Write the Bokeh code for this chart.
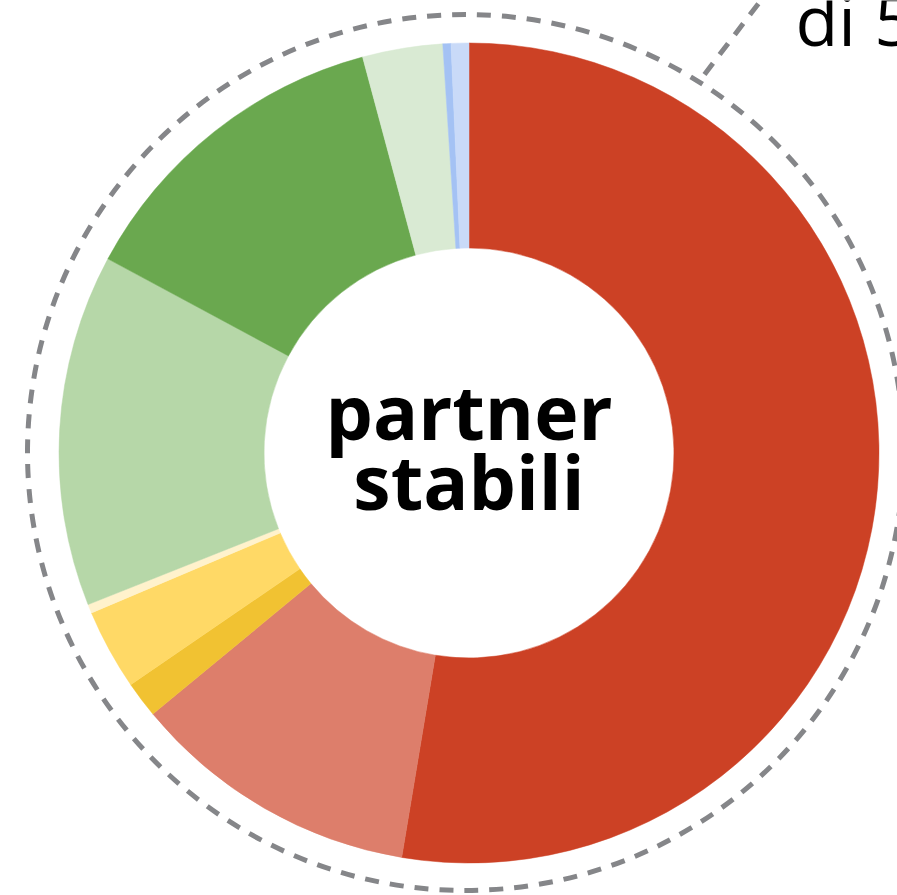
import math
from bokeh.plotting import figure
from bokeh.models import Range1d, ColumnDataSource
from bokeh.core.properties import value
from bokeh.embed import file_html
from bokeh.resources import INLINE

# ---- data ----
categories = ["rosso", "salmone", "giallo scuro", "giallo", "giallo chiaro",
              "verde chiaro", "verde", "verde pallido", "blu", "blu chiaro"]
shares = [52.63, 11.39, 1.43, 3.18, 0.35, 13.88, 12.97, 3.16, 0.32, 0.70]
colors = ["#CC4125", "#DD7E6B", "#F1C232", "#FFD966", "#FFF2CC",
          "#B6D7A8", "#6AA84F", "#D9EAD3", "#A4C2F4", "#C9DAF8"]
center_label = ["partner", "stabili"]
corner_label = "di 5"

W, H = 897, 895
cx, cy = 468.5, H - 452.5

total = sum(shares)
starts, ends = [], []
acc = 0.0
for s in shares:
    a0 = acc / total * 2 * math.pi
    acc += s
    a1 = acc / total * 2 * math.pi
    # clockwise from 12 o'clock -> bokeh angles (ccw from +x)
    starts.append(math.pi / 2 - a1)
    ends.append(math.pi / 2 - a0)

src = ColumnDataSource(dict(cat=categories, share=shares, color=colors,
                            start=starts, end=ends))

p = figure(width=W, height=H, output_backend="svg", toolbar_location=None,
           x_range=Range1d(0, W), y_range=Range1d(0, H), min_border=0,
           match_aspect=False)
p.axis.visible = False
p.grid.visible = False
p.outline_line_color = None
p.background_fill_color = "white"
p.border_fill_color = "white"

p.annular_wedge(x=cx, y=cy, inner_radius=205, outer_radius=410,
                start_angle="start", end_angle="end", color="color",
                line_color="color", line_width=0.5, source=src)

# dashed outer circle
p.circle(x=465, y=H - 452, radius=438, fill_color=None,
         line_color="#858689", line_width=5, line_dash="14 11")

# leader line
p.line(x=[704, 780], y=[H - 74, H + 26], line_color="#858689",
       line_width=5, line_dash="14 11")

# texts (offset compensates renderer baseline shift)
dy = 30
p.text(x=[cx], y=[H - 440 + dy], text=[center_label[0]], text_align="center",
       text_baseline="alphabetic", text_font=value("Open Sans"),
       text_font_style="bold", text_font_size="75px", text_color="black")
p.text(x=[cx], y=[H - 510 + dy], text=[center_label[1]], text_align="center",
       text_baseline="alphabetic", text_font=value("Open Sans"),
       text_font_style="bold", text_font_size="75px", text_color="black")
p.text(x=[795], y=[H - 48 + dy], text=[corner_label], text_align="left",
       text_baseline="alphabetic", text_font=value("Open Sans"),
       text_font_size="70px", text_color="black")

open("out.html", "w").write(file_html(p, INLINE))
